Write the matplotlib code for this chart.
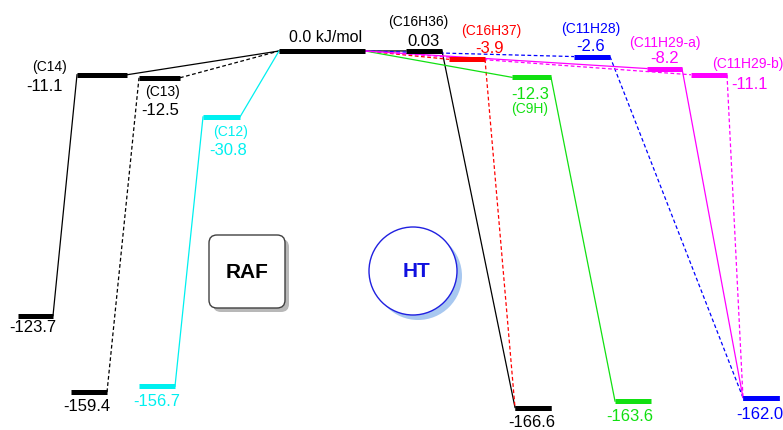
import matplotlib
matplotlib.use("Agg")
import matplotlib.pyplot as plt
from matplotlib.patches import FancyBboxPatch, Circle
from matplotlib.transforms import IdentityTransform

plt.rcParams['font.family'] = ['Liberation Sans', 'DejaVu Sans']

# energies in kJ/mol
start_energy = 0.0

# RAF channels: intermediate -> product
raf_names = ['(C14)', '(C13)', '(C12)']
raf_mid = [-11.1, -12.5, -30.8]
raf_prod = [-123.7, -159.4, -156.7]
raf_colors = ['black', 'black', '#00f0f0']
raf_styles = ['-', '--', '-']

# HT channels: intermediate -> product
ht_names = ['(C16H36)', '(C16H37)', '(C9H)', '(C11H28)', '(C11H29-a)', '(C11H29-b)']
ht_mid = [0.03, -3.9, -12.3, -2.6, -8.2, -11.1]
ht_prod = [-166.6, -166.6, -163.6, -162.0, -162.0, -162.0]
ht_colors = ['black', 'red', '#11e011', 'blue', 'magenta', 'magenta']
ht_styles = ['-', '--', '-', '--', '-', '--']
ht_prod_colors = ['black', 'black', '#11e011', 'blue', 'blue', 'blue']

# layout (x in pixel-like units)
start_x = (279, 365)
raf_mid_x = [(77, 127), (139, 180), (203, 240)]
raf_prod_x = [(18, 53), (71, 107), (139, 175)]
ht_mid_x = [(406, 442), (449, 485), (512, 551), (574, 610), (647, 682), (691, 727)]
ht_prod_x = [(515, 551), (515, 551), (615, 651), (743, 779), (743, 779), (743, 779)]

SCALE = 2.14   # px per kJ/mol
Y0 = 52        # pixel row of 0.0
W, H = 783, 431

fig = plt.figure(figsize=(W / 100, H / 100), dpi=100)
ax = fig.add_axes([0, 0, 1, 1])
ax.set_xlim(0, W)
ax.set_ylim(-(H - Y0) / SCALE, Y0 / SCALE)
ax.axis('off')

BAR_LW = 3.6
LINE_LW = 0.9
DASH = (3, 2)
NUM_SIZE = 12
NAME_SIZE = 10


def bar(xs, e, c):
    ax.plot(xs, [e, e], color=c, lw=BAR_LW, solid_capstyle='butt', zorder=3)


def link(x0, e0, x1, e1, c, ls):
    kw = dict(color=c, lw=LINE_LW, zorder=2)
    if ls == '--':
        ax.plot([x0, x1], [e0, e1], ls='--', dashes=DASH, **kw)
    else:
        ax.plot([x0, x1], [e0, e1], **kw)


def label(s, x, e, dx, dy, c='black', size=NUM_SIZE):
    # dx, dy in pixels (dy downward)
    ax.annotate(s, (x, e), xytext=(dx * 0.72, -dy * 0.72), textcoords='offset points',
                ha='center', va='center', color=c, fontsize=size)


bar(start_x, start_energy, 'black')

for i in range(len(raf_mid)):
    mx = raf_mid_x[i]
    px = raf_prod_x[i]
    bar(mx, raf_mid[i], raf_colors[i])
    bar(px, raf_prod[i], raf_colors[i])
    link(mx[1], raf_mid[i], start_x[0], start_energy, raf_colors[i], raf_styles[i])
    link(px[1], raf_prod[i], mx[0], raf_mid[i], raf_colors[i], raf_styles[i])

for i in range(len(ht_mid)):
    mx = ht_mid_x[i]
    px = ht_prod_x[i]
    bar(mx, ht_mid[i], ht_colors[i])
    bar(px, ht_prod[i], ht_prod_colors[i])
    link(start_x[1], start_energy, mx[0], ht_mid[i], ht_colors[i], ht_styles[i])
    link(mx[1], ht_mid[i], px[0], ht_prod[i], ht_colors[i], ht_styles[i])

# labels
label('0.0 kJ/mol', sum(start_x) / 2, start_energy, 4, -14, size=11.5)

raf_name_off = [(-53, -9), (3.5, 13), (9.5, 14)]
raf_val_off = [(-58, 11), (0.5, 32), (6.5, 33)]
raf_prod_off = [(-2.5, 11), (-2, 13), (0, 14)]
for i in range(len(raf_mid)):
    cx = sum(raf_mid_x[i]) / 2
    c = raf_colors[i]
    label(raf_names[i], cx, raf_mid[i], *raf_name_off[i], c=c, size=NAME_SIZE)
    label('%.1f' % raf_mid[i], cx, raf_mid[i], *raf_val_off[i], c=c)
    label('%.1f' % raf_prod[i], sum(raf_prod_x[i]) / 2, raf_prod[i], *raf_prod_off[i], c=c)

ht_name_off = [(-6, -30), (24, -29), (-1.5, 31), (-1, -29), (0.5, -27), (39, -12)]
ht_val_off = [(0, -10), (23, -12), (-1.5, 16), (-1, -11), (0.5, -11), (41, 9)]
for i in range(len(ht_mid)):
    cx = sum(ht_mid_x[i]) / 2
    c = ht_colors[i]
    label(ht_names[i], cx, ht_mid[i], *ht_name_off[i], c=c, size=NAME_SIZE)
    txt = '%.2f' % ht_mid[i] if abs(ht_mid[i]) < 0.1 else '%.1f' % ht_mid[i]
    label(txt, cx, ht_mid[i], *ht_val_off[i], c=c)

prod_done = []
prod_off = {-166.6: (-1, 14), -163.6: (-3, 14), -162.0: (-1, 16)}
for i in range(len(ht_prod)):
    if ht_prod[i] in prod_done:
        continue
    prod_done.append(ht_prod[i])
    label('%.1f' % ht_prod[i], sum(ht_prod_x[i]) / 2, ht_prod[i], *prod_off[ht_prod[i]],
          c=ht_prod_colors[i])

# RAF box and HT circle (pixel coordinates, y from bottom)
idt = IdentityTransform()
bx, by, bw, bh = 209, H - 309, 76, 73
shadow = FancyBboxPatch((bx + 4, by - 4), bw, bh, boxstyle='round,pad=0,rounding_size=8',
                        transform=idt, facecolor='#b8b8b8', edgecolor='none', zorder=4)
box = FancyBboxPatch((bx, by), bw, bh, boxstyle='round,pad=0,rounding_size=8',
                     transform=idt, facecolor='white', edgecolor='#404040', lw=1, zorder=5)
fig.patches.extend([shadow, box])
fig.text((bx + bw / 2) / W, (by + bh / 2) / H, 'RAF', ha='center', va='center',
         fontsize=15, fontweight='bold', color='black', zorder=6)

cx, cy, r = 413, H - 272, 44
cshadow = Circle((cx + 5, cy - 5), r, transform=idt, facecolor='#a8c8f0', edgecolor='none', zorder=4)
circ = Circle((cx, cy), r, transform=idt, facecolor='white', edgecolor='#2020e0', lw=1, zorder=5)
fig.patches.extend([cshadow, circ])
fig.text((cx + 3) / W, cy / H, 'HT', ha='center', va='center',
         fontsize=15, fontweight='bold', color='#1010e0', zorder=6)

fig.savefig('out.png', dpi=100)
